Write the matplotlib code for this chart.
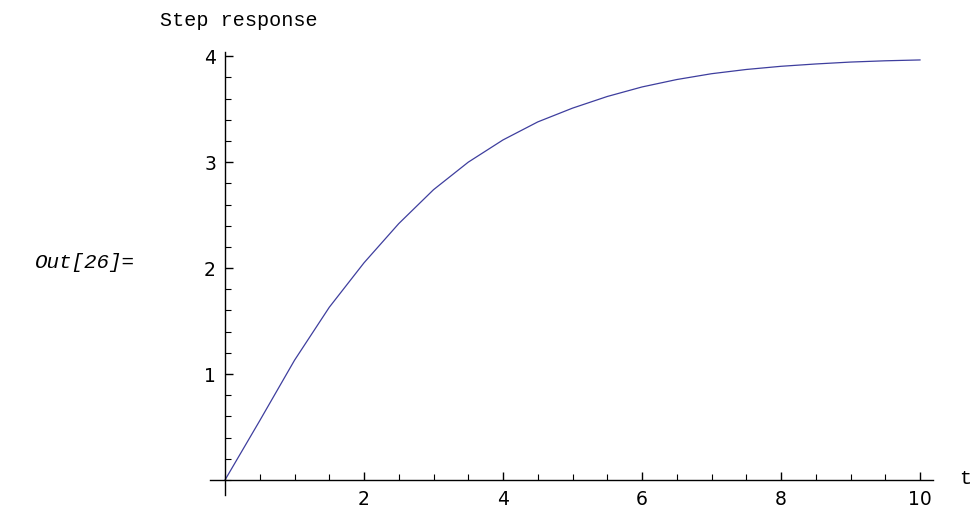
import matplotlib
matplotlib.use("Agg")
import matplotlib.pyplot as plt
from matplotlib.ticker import MultipleLocator

# Valores (respuesta al escalon)
t = [0, 0.5, 1, 1.5, 2, 2.5, 3, 3.5, 4, 4.5, 5, 5.5, 6, 6.5, 7, 7.5, 8,
     8.5, 9, 9.5, 10]
y = [0, 0.56, 1.13, 1.63, 2.05, 2.42, 2.74, 3.00, 3.21, 3.38, 3.51, 3.62,
     3.71, 3.78, 3.835, 3.875, 3.905, 3.927, 3.945, 3.957, 3.965]
x_ticks = [2, 4, 6, 8, 10]
y_ticks = [1, 2, 3, 4]

fig = plt.figure(figsize=(9.73, 5.14), dpi=100)
ax = fig.add_axes([210 / 973, 19 / 514, 723 / 973, 443 / 514])

ax.plot(t, y, color="#3e3e9e", lw=0.9)

ax.set_xlim(-0.216, 10.187)
ax.set_ylim(-0.142, 4.04)

ax.spines["left"].set_position(("data", 0))
ax.spines["bottom"].set_position(("data", 0))
ax.spines["top"].set_visible(False)
ax.spines["right"].set_visible(False)
for s in ("left", "bottom"):
    ax.spines[s].set_linewidth(1.0)

ax.set_xticks(x_ticks)
ax.set_yticks(y_ticks)
ax.xaxis.set_minor_locator(MultipleLocator(0.5))
ax.yaxis.set_minor_locator(MultipleLocator(0.2))
ax.tick_params(which="major", direction="in", length=6, width=1.0,
               labelsize=13.5, colors="black")
ax.tick_params(which="minor", direction="in", length=4, width=0.8)
ax.tick_params(axis="x", pad=7)
ax.tick_params(axis="y", pad=6.5)

mono = "Liberation Mono"
fig.text(160 / 973, 1 - 20 / 514, "Step response", family=mono,
         fontsize=14.5, ha="left", va="center")
fig.text(35 / 973, 1 - 262 / 514, "Out[26]=", family=mono, style="italic",
         fontsize=15, ha="left", va="center")
fig.text(965 / 973, 1 - 478 / 514, "t", family=mono, fontsize=14.5,
         ha="center", va="center")

fig.savefig("out.png", dpi=100)
